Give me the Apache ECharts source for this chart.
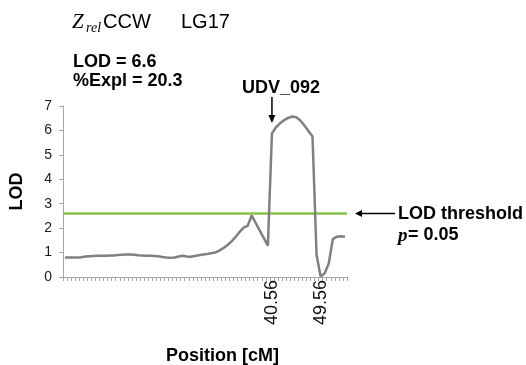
<!DOCTYPE html>
<html>
<head>
<meta charset="utf-8">
<script src="https://cdn.jsdelivr.net/npm/echarts@6/dist/echarts.min.js"></script>
<style>
html,body{margin:0;padding:0;background:#fff;}
#chart{width:526px;height:365px;}
</style>
</head>
<body>
<div id="chart"></div>
<script>
// LOD profile along linkage group 17 (one value per map position)
const lodValues = [
  0.80, 0.80, 0.80, 0.80, 0.81, 0.84, 0.85, 0.86, 0.87, 0.87,
  0.87, 0.88, 0.88, 0.90, 0.91, 0.92, 0.92, 0.91, 0.89, 0.88,
  0.87, 0.87, 0.86, 0.85, 0.82, 0.80, 0.79, 0.80, 0.84, 0.87,
  0.84, 0.83, 0.86, 0.89, 0.92, 0.94, 0.97, 1.00, 1.08, 1.18,
  1.30, 1.45, 1.63, 1.84, 2.02, 2.09, 2.52, 2.21, 1.90, 1.59,
  1.28, 5.88, 6.13, 6.29, 6.42, 6.51, 6.57, 6.54, 6.41, 6.20,
  5.98, 5.75, 0.90, 0.02, 0.15, 0.55, 1.55, 1.65, 1.67, 1.65
];
// positions shown as tick labels (index into lodValues -> label)
const labelIndices = [51, 63];
const labelTexts = ['40.56', '49.56'];
const yTicks = [0, 1, 2, 3, 4, 5, 6, 7];
const lodThreshold = 2.6;
const markerIndex = 51; // UDV_092
const categories = lodValues.map((_, i) => String(i));

const SANS = '"Liberation Sans", Arial, sans-serif';
const SERIF = '"Liberation Serif", "Times New Roman", serif';

const chart = echarts.init(document.getElementById('chart'), null, {renderer: 'canvas'});

function txt(text, x, y, size, opts) {
  opts = opts || {};
  return {
    type: 'text', x: x, y: y, silent: true,
    style: {
      text: text,
      font: (opts.italic ? 'italic ' : '') + (opts.bold ? 'bold ' : '') + size + 'px ' + (opts.family || SANS),
      fill: '#000',
      align: opts.align || 'left',
      verticalAlign: 'middle'
    }
  };
}

const option = {
  animation: false,
  backgroundColor: '#fff',
  grid: {left: 62, right: 179, top: 106, bottom: 88, containLabel: false},
  xAxis: {
    type: 'category',
    data: categories,
    boundaryGap: true,
    axisLine: {lineStyle: {color: '#a6a6a6', width: 1}},
    axisTick: {show: true, interval: 0, length: 4, lineStyle: {color: '#a6a6a6'}},
    axisLabel: {
      interval: 0, rotate: 90, margin: 3,
      fontFamily: SANS, fontSize: 18, color: '#111',
      formatter: function (v, idx) {
        const k = labelIndices.indexOf(idx);
        return k >= 0 ? labelTexts[k] : '';
      }
    },
    splitLine: {show: false}
  },
  yAxis: {
    type: 'value',
    min: yTicks[0], max: yTicks[yTicks.length - 1], interval: 1,
    name: 'LOD', nameLocation: 'middle', nameRotate: 90, nameGap: 37,
    nameTextStyle: {fontFamily: SANS, fontSize: 18, fontWeight: 'bold', color: '#000'},
    axisLine: {show: true, lineStyle: {color: '#a6a6a6', width: 1}},
    axisTick: {show: true, length: 4, lineStyle: {color: '#a6a6a6'}},
    axisLabel: {margin: 11, fontFamily: SANS, fontSize: 14, color: '#1a1a1a'},
    splitLine: {show: false}
  },
  series: [{
    type: 'line',
    data: lodValues,
    showSymbol: false,
    symbol: 'none',
    lineStyle: {color: '#808080', width: 2.5},
    z: 3,
    markLine: {
      silent: true,
      symbol: ['none', 'none'],
      label: {show: false},
      lineStyle: {color: '#8cc04a', width: 2.5, type: 'solid'},
      data: [{yAxis: lodThreshold}],
      z: 2
    }
  }]
};

chart.setOption(option);

const mx = chart.convertToPixel({xAxisIndex: 0}, markerIndex);
const ty = chart.convertToPixel({yAxisIndex: 0}, lodThreshold);

const graphics = [
  // title
  txt('Z', 72, 22, 21, {italic: true, family: SERIF}),
  txt('rel', 86, 28, 14, {italic: true, family: SERIF}),
  txt('CCW', 103, 22, 20, {}),
  txt('LG17', 181, 22, 20, {}),
  // stats
  txt('LOD = 6.6', 73, 62, 18, {bold: true}),
  txt('%Expl = 20.3', 73, 81, 18, {bold: true}),
  // marker label + arrow
  txt('UDV_092', 242, 88.5, 18, {bold: true}),
  {type: 'line', silent: true, shape: {x1: mx, y1: 97, x2: mx, y2: 116}, style: {stroke: '#000', lineWidth: 1.5}},
  {type: 'polygon', silent: true, shape: {points: [[mx - 3.5, 115], [mx + 3.5, 115], [mx, 123]]}, style: {fill: '#000'}},
  // threshold label + arrow
  {type: 'line', silent: true, shape: {x1: 395, y1: ty, x2: 361, y2: ty}, style: {stroke: '#000', lineWidth: 1.5}},
  {type: 'polygon', silent: true, shape: {points: [[362, ty - 3.5], [362, ty + 3.5], [355, ty]]}, style: {fill: '#000'}},
  txt('LOD threshold', 398, 214.5, 18, {bold: true}),
  txt('p', 398, 236, 19, {bold: true, italic: true, family: SERIF}),
  txt('= 0.05', 408, 235.5, 18, {bold: true}),
  // x axis title
  txt('Position [cM]', 222.5, 356.5, 18, {bold: true, align: 'center'})
];

chart.setOption({graphic: graphics});
</script>
</body>
</html>
